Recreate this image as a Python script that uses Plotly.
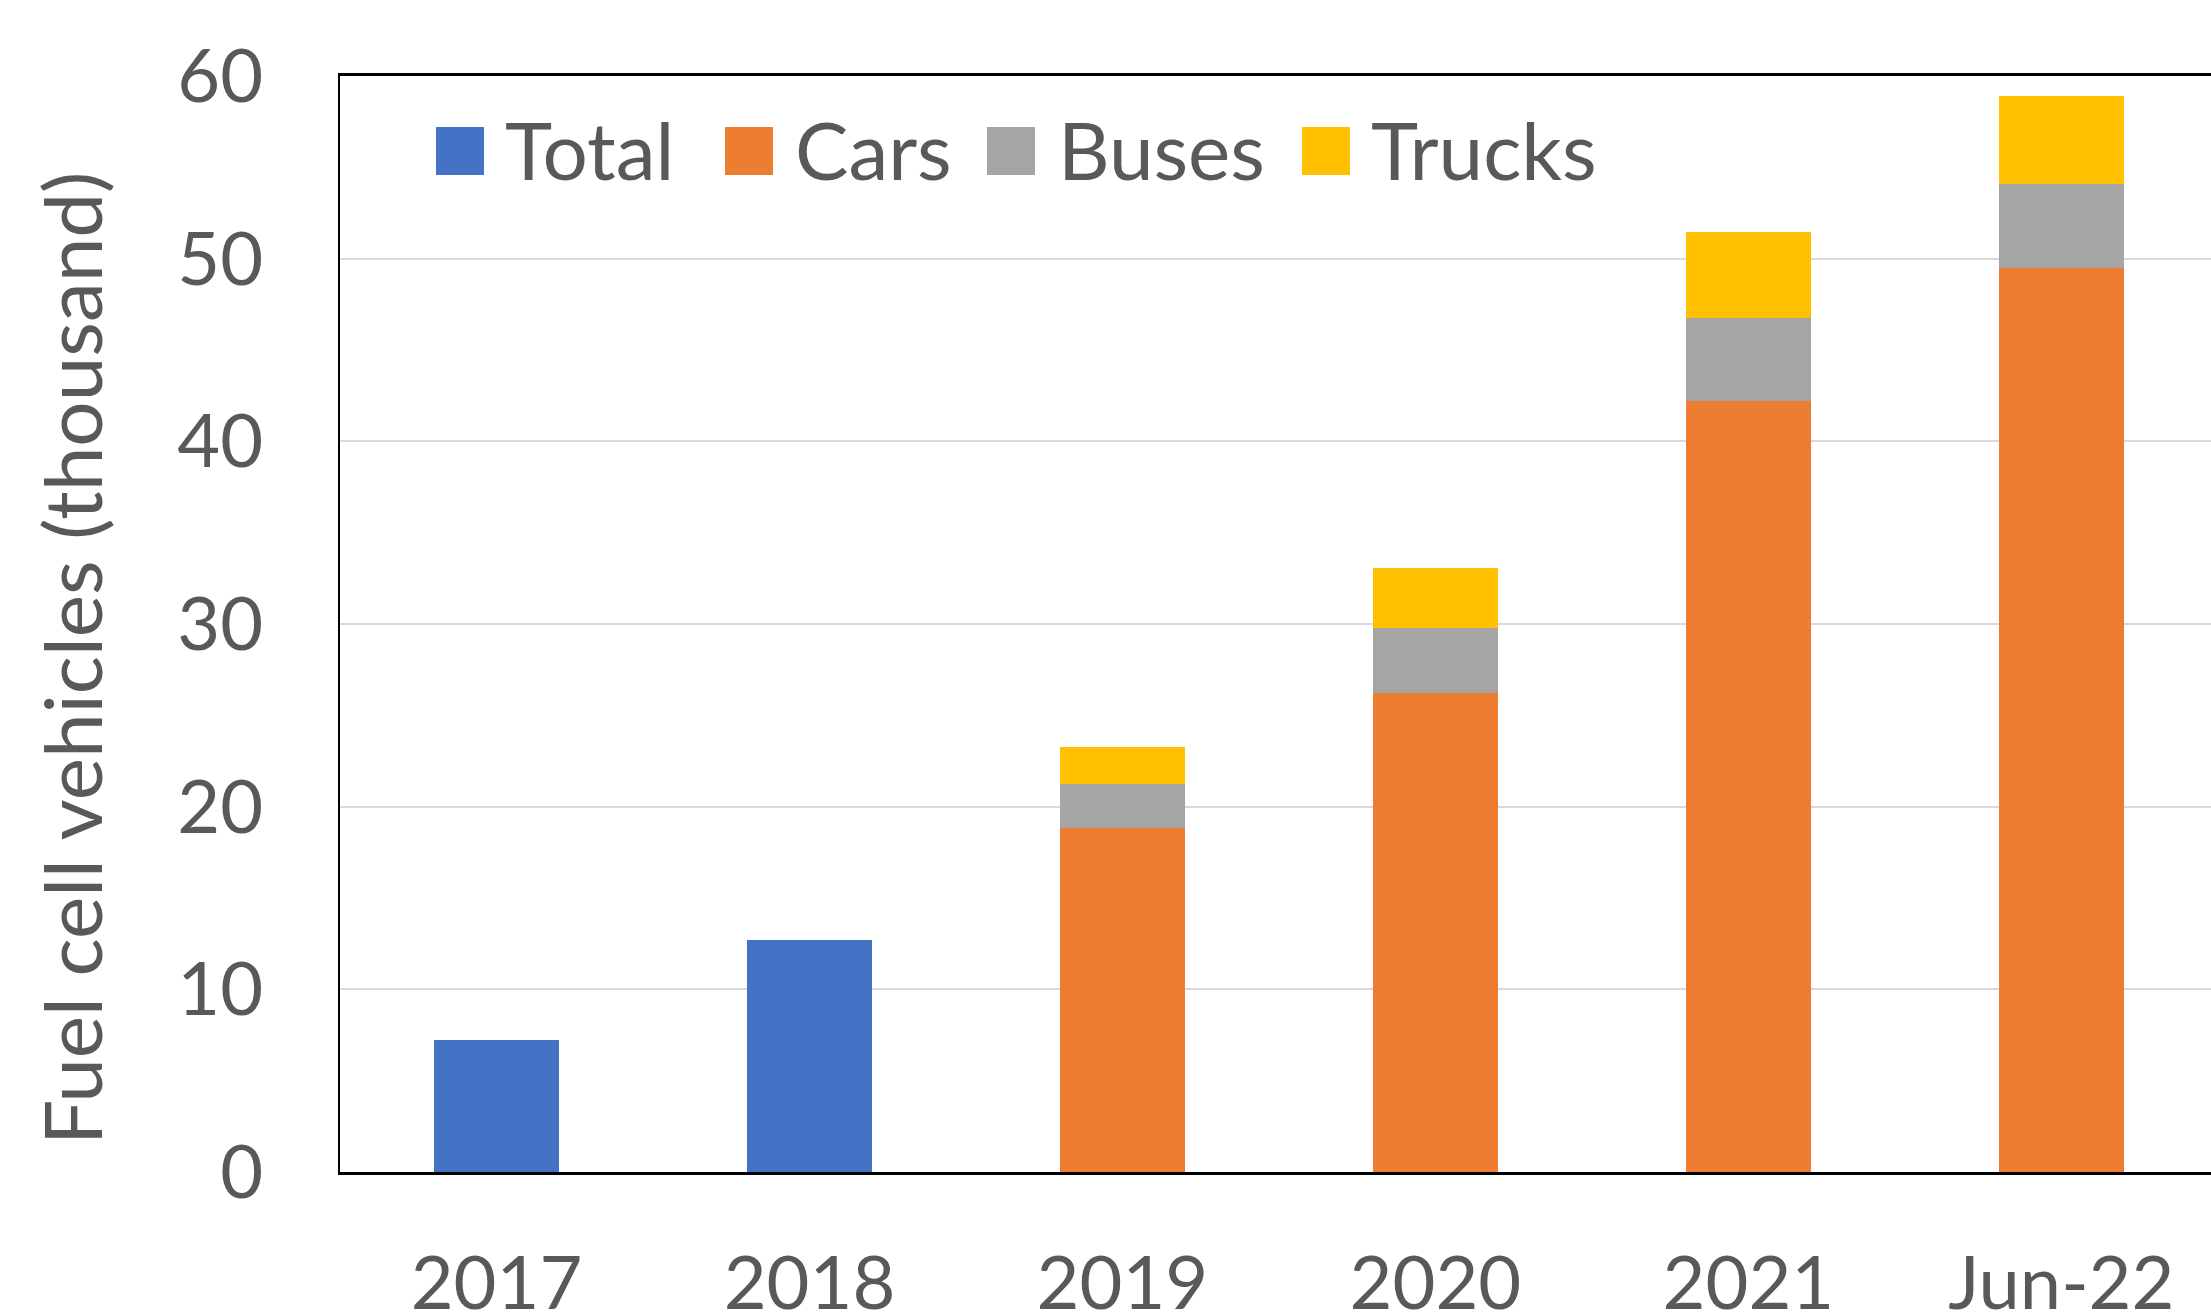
import plotly.graph_objects as go

categories = ["2017", "2018", "2019", "2020", "2021", "Jun-22"]
total = [7.2, 12.7, None, None, None, None]
cars = [None, None, 18.85, 26.2, 42.2, 49.5]
buses = [None, None, 2.4, 3.6, 4.55, 4.6]
trucks = [None, None, 2.0, 3.25, 4.7, 4.8]
y_ticks = [0, 10, 20, 30, 40, 50, 60]

series_names = ["Total", "Cars", "Buses", "Trucks"]
series_colors = ["#4472C4", "#ED7D31", "#A5A5A5", "#FFC000"]
series_values = [total, cars, buses, trucks]

FONT = "Lato, Open Sans, sans-serif"
TXT = "#595959"
FS = 74

fig = go.Figure()
for name, color, vals in zip(series_names, series_colors, series_values):
    fig.add_trace(go.Bar(x=categories, y=vals, name=name, marker_color=color,
                         marker_line_width=0, showlegend=False))

W, H = 2211, 1312
ml, mr, mt, mb = 340, 0, 76, 140
pw, ph = W - ml - mr, H - mt - mb

def px_x(x):  # screen px -> paper
    return (x - ml) / pw

def px_y(y):
    return (H - mb - y) / ph

# custom legend (large square swatches like the original)
leg_marker_x = [436, 725, 987, 1302]
leg_text_x = [503, 793, 1056, 1369]
for name, color, mx, tx in zip(series_names, series_colors, leg_marker_x, leg_text_x):
    fig.add_shape(type="rect", xref="paper", yref="paper",
                  x0=px_x(mx), x1=px_x(mx + 48), y0=px_y(175), y1=px_y(127),
                  fillcolor=color, line_width=0)
    fig.add_annotation(x=px_x(tx), y=px_y(149), xref="paper", yref="paper",
                       text=name, showarrow=False, xanchor="left", yanchor="middle",
                       font=dict(family=FONT, size=80, color=TXT))

# y-axis title
fig.add_annotation(x=px_x(71), y=px_y(659), xref="paper", yref="paper",
                   text="Fuel cell vehicles (thousand)", showarrow=False,
                   textangle=-90, xanchor="center", yanchor="middle",
                   font=dict(family=FONT, size=80, color=TXT))

fig.update_layout(
    width=W, height=H,
    barmode="stack", bargap=0.6,
    plot_bgcolor="white", paper_bgcolor="white",
    margin=dict(l=ml, r=mr, t=mt, b=mb, autoexpand=False),
    font=dict(family=FONT, size=FS, color=TXT),
)
fig.update_xaxes(type="category", range=[-0.5, 5.478], automargin=False,
                 showline=True, linecolor="black", linewidth=3, mirror=True,
                 showgrid=False, ticks="", ticklabelstandoff=45,
                 tickfont=dict(family=FONT, size=FS, color=TXT))
fig.update_yaxes(range=[0, 60], tickvals=y_ticks, automargin=False,
                 showline=True, linecolor="black", linewidth=2,
                 showgrid=True, gridcolor="#D9D9D9", gridwidth=2,
                 zeroline=False, ticks="", ticklabelstandoff=60,
                 tickfont=dict(family=FONT, size=FS, color=TXT))

fig.write_html("out.html", config={"displayModeBar": False},
               post_script="document.body.style.margin='0';document.body.style.overflow='hidden';")
